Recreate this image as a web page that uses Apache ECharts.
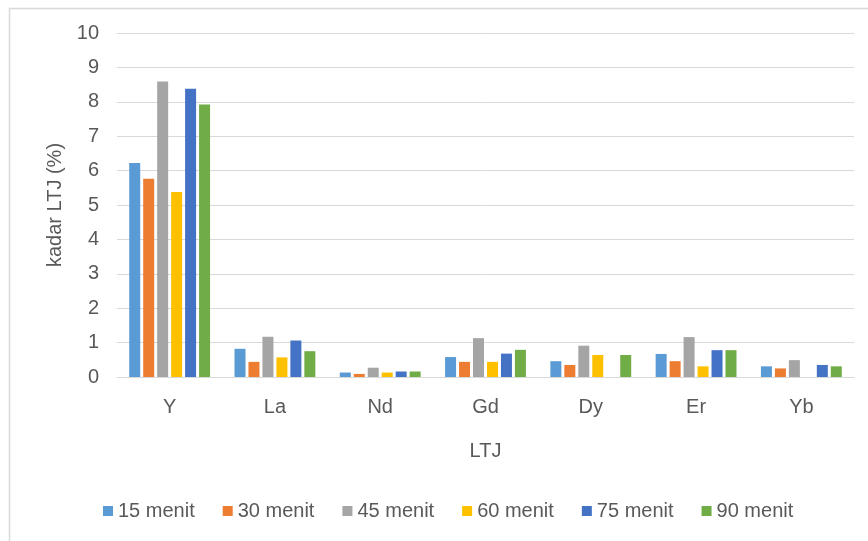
<!DOCTYPE html>
<html>
<head>
<meta charset="utf-8">
<script src="https://cdn.jsdelivr.net/npm/echarts@6/dist/echarts.min.js"></script>
<style>html,body{margin:0;padding:0;background:#fff;}#c{width:868px;height:541px;}</style>
</head>
<body>
<div id="c"></div>
<script>
const categories = ['Y', 'La', 'Nd', 'Gd', 'Dy', 'Er', 'Yb'];
const seriesNames = ['15 menit', '30 menit', '45 menit', '60 menit', '75 menit', '90 menit'];
const s15 = [6.22, 0.82, 0.13, 0.58, 0.46, 0.67, 0.31];
const s30 = [5.76, 0.44, 0.09, 0.44, 0.35, 0.46, 0.25];
const s45 = [8.59, 1.17, 0.27, 1.13, 0.91, 1.16, 0.49];
const s60 = [5.38, 0.57, 0.13, 0.44, 0.64, 0.31, 0];
const s75 = [8.38, 1.06, 0.16, 0.68, 0, 0.78, 0.35];
const s90 = [7.92, 0.75, 0.16, 0.79, 0.64, 0.78, 0.31];
const yTicks = [0, 1, 2, 3, 4, 5, 6, 7, 8, 9, 10];
const colors = ['#5B9BD5', '#ED7D31', '#A5A5A5', '#FFC000', '#4472C4', '#70AD47'];
const allData = [s15, s30, s45, s60, s75, s90];

const font = 'Liberation Sans';
const chart = echarts.init(document.getElementById('c'));
chart.setOption({
  animation: false,
  color: colors,
  textStyle: { fontFamily: font },
  graphic: [{
    type: 'rect', left: 7, top: 6,
    shape: { width: 900, height: 600 },
    style: { fill: 'none', stroke: '#d9d9d9', lineWidth: 1.5 },
    silent: true
  }],
  grid: { left: 117, right: 14, top: 33, bottom: 164, containLabel: false },
  legend: {
    data: seriesNames,
    left: 98, top: 496,
    itemWidth: 10, itemHeight: 10, itemGap: 28,
    icon: 'rect',
    textStyle: { color: '#595959', fontSize: 20, fontFamily: font }
  },
  xAxis: {
    type: 'category',
    data: categories,
    name: 'LTJ',
    nameLocation: 'middle',
    nameGap: 64,
    nameTextStyle: { color: '#595959', fontSize: 20, fontFamily: font },
    axisLine: { lineStyle: { color: '#d9d9d9', width: 1 } },
    axisTick: { show: false },
    axisLabel: { color: '#595959', fontSize: 20, fontFamily: font, margin: 20 }
  },
  yAxis: {
    type: 'value',
    min: yTicks[0], max: yTicks[yTicks.length - 1], interval: 1,
    name: 'kadar LTJ (%)',
    nameLocation: 'middle',
    nameGap: 52,
    nameTextStyle: { color: '#595959', fontSize: 20, fontFamily: font },
    axisLine: { show: false },
    axisTick: { show: false },
    axisLabel: { color: '#595959', fontSize: 20, fontFamily: font, margin: 18 },
    splitLine: { lineStyle: { color: '#d9d9d9', width: 1 } }
  },
  series: seriesNames.map((n, i) => ({
    name: n,
    type: 'bar',
    data: allData[i],
    barWidth: 11,
    barGap: '27%',
    itemStyle: { color: colors[i] }
  }))
});
</script>
</body>
</html>
